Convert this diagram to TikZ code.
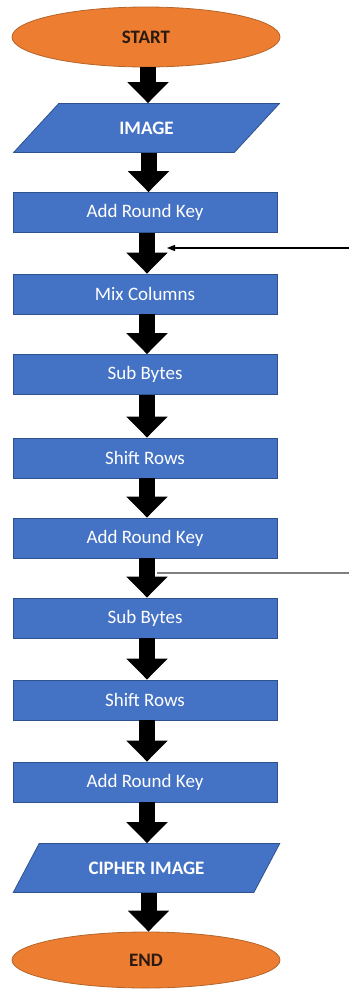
\documentclass[tikz,border=0pt]{standalone}
\usepackage{fontspec}
\setmainfont{Carlito}
\usetikzlibrary{shapes.geometric,arrows.meta}
\definecolor{boxblue}{HTML}{4472C4}
\definecolor{boxedge}{HTML}{2F528F}
\definecolor{termorange}{HTML}{ED7D31}
\definecolor{termedge}{HTML}{B5652A}
\definecolor{termtext}{HTML}{2A1A10}
\definecolor{keygrey}{HTML}{7F7F7F}
\begin{document}
\begin{tikzpicture}[x=1pt,y=-1pt,
  labelfont/.style={font=\fontsize{19}{22}\selectfont},
  process/.style={rectangle, draw=boxedge, line width=0.8pt, fill=boxblue,
    text=white, minimum width=264pt, minimum height=40pt, inner sep=0pt, labelfont},
  iobox/.style={trapezium, trapezium left angle=42, trapezium right angle=138,
    trapezium stretches=true, draw=boxedge, line width=0.8pt, fill=boxblue,
    text=white, minimum width=267pt, minimum height=49pt, inner sep=0pt,
    font=\fontsize{19}{22}\selectfont\bfseries},
  terminal/.style={ellipse, draw=termedge, line width=0.8pt, fill=termorange,
    text=termtext, minimum width=268pt, inner sep=0pt,
    font=\fontsize{19}{22}\selectfont\bfseries},
  flow/.style={line width=16pt, black, -{Triangle[width=40pt,length=21pt]}},
  keyarrow/.style={line width=1.1pt, black, -{Triangle[width=6pt,length=8pt]}},
  keyline/.style={line width=1.6pt, keygrey}]
\useasboundingbox (0,0) rectangle (349,989);

% main flow
\node[terminal, minimum height=60pt] (start) at (146,37) {START};
\node[iobox] (img) at (146.5,128) {IMAGE};
\node[process] (ark1) at (145,212.5) {Add Round Key};
\node[process] (mc) at (145,294) {Mix Columns};
\node[process] (sb1) at (145,374.5) {Sub Bytes};
\node[process] (sr1) at (145,458) {Shift Rows};
\node[process] (ark2) at (145,538) {Add Round Key};
\node[process] (sb2) at (145,618) {Sub Bytes};
\node[process] (sr2) at (145,700) {Shift Rows};
\node[process] (ark3) at (145,782) {Add Round Key};
\node[iobox] (cimg) at (146.5,868) {CIPHER IMAGE};
\node[terminal, minimum height=56pt] (stop) at (146,960) {END};

% block arrows between steps
\foreach \a/\b in {start/img, img/ark1, ark1/mc, mc/sb1, sb1/sr1, sr1/ark2,
                   ark2/sb2, sb2/sr2, sr2/ark3, ark3/cimg, cimg/stop}
  \draw[flow] ([xshift=2pt]\a.south) -- ([xshift=2pt]\a.south |- \b.north);

% round key entering the loop, and loop-back tap
\coordinate (keyin) at (349,248);
\coordinate (keyhit) at (167,248);
\draw[keyarrow] (keyin) -- (keyhit);
\coordinate (keytap) at (157,573);
\coordinate (keyout) at (349,573);
\draw[keyline] (keytap) -- (keyout);
\end{tikzpicture}
\end{document}
